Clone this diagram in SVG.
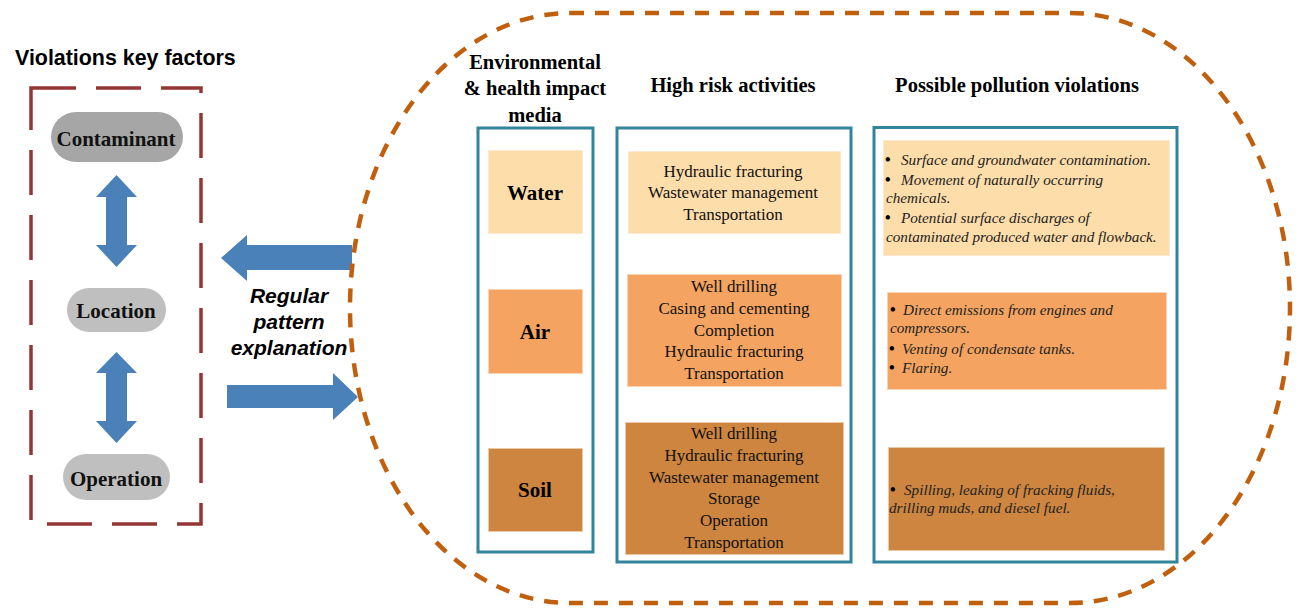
<svg xmlns="http://www.w3.org/2000/svg" width="1299" height="609" viewBox="0 0 1299 609">
<style>
.title{font-family:'Liberation Sans',Arial,sans-serif;font-weight:bold;font-size:21.4px;fill:#000}
.expl{font-family:'Liberation Sans',Arial,sans-serif;font-weight:bold;font-style:italic;font-size:21px;fill:#000;text-anchor:middle}
.serif{font-family:'Liberation Serif','DejaVu Serif',serif}
.pilltxt{font-weight:bold;font-size:21px;fill:#111;text-anchor:middle}
.hdr{font-weight:bold;font-size:20.5px;fill:#000;text-anchor:middle}
.media{font-weight:bold;font-size:21px;fill:#000;text-anchor:middle}
.act{font-size:17px;fill:#111;text-anchor:middle}
.vio{font-style:italic;font-size:15.2px;fill:#222}
.b{font-weight:bold;font-style:normal;font-size:16px;fill:#000}
.col{fill:#fff;stroke:#31849B;stroke-width:3}
.water{fill:#FDDDAA;stroke:#FDE9D2;stroke-width:1}
.air{fill:#F4A460;stroke:#FAD3B3;stroke-width:1}
.soil{fill:#CD853F;stroke:#EBC8A6;stroke-width:1}
.blue{fill:#4A81B8}
</style>

<text class="title" x="15" y="65">Violations key factors</text>
<rect x="31" y="88" width="170" height="436" fill="none" stroke="#943634" stroke-width="3.5" stroke-dasharray="45 20"/>

<g id="contaminant">
<rect x="51" y="112" width="132" height="50" rx="25" fill="#A6A6A6"/>
<text class="serif pilltxt" x="116" y="146">Contaminant</text>
</g>
<g id="location">
<rect x="67" y="288" width="99" height="44" rx="22" fill="#BFBFBF"/>
<text class="serif pilltxt" x="116" y="318">Location</text>
</g>
<g id="operation">
<rect x="63" y="454" width="107" height="46" rx="23" fill="#BFBFBF"/>
<text class="serif pilltxt" x="116" y="486">Operation</text>
</g>

<g id="connectors">
<path class="blue" d="M116.5,175 L137,197 L127,197 L127,245 L137,245 L116.5,267 L96,245 L106,245 L106,197 L96,197 Z"/>
<path class="blue" d="M116.5,352 L137,373 L127,373 L127,421 L137,421 L116.5,443 L96,421 L106,421 L106,373 L96,373 Z"/>
<path class="blue" d="M221,258 L247,235 L247,245 L352,245 L352,270 L247,270 L247,281 Z"/>
<path class="blue" d="M227,385 L333,385 L333,373 L358,397 L333,420 L333,408 L227,408 Z"/>
</g>

<g id="explanation">
<text class="expl" x="289" y="303">Regular</text>
<text class="expl" x="289" y="329">pattern</text>
<text class="expl" x="289" y="355">explanation</text>
</g>

<rect x="350" y="13" width="940" height="590" rx="220" ry="295" fill="none" stroke="#C0600F" stroke-width="4.5" stroke-dasharray="14 11"/>

<g id="headers" class="serif">
<text class="hdr" x="535" y="69">Environmental</text>
<text class="hdr" x="535" y="95">&amp; health impact</text>
<text class="hdr" x="535" y="122">media</text>
<text class="hdr" x="733" y="92">High risk activities</text>
<text class="hdr" x="1017" y="92">Possible pollution violations</text>
</g>

<g id="col-media" class="serif">
<rect class="col" x="478" y="128" width="115" height="424"/>
<rect class="water" x="488.5" y="150.5" width="94" height="83"/>
<text class="media" x="535" y="200">Water</text>
<rect class="air" x="488.5" y="289.5" width="94" height="84"/>
<text class="media" x="535" y="339">Air</text>
<rect class="soil" x="488.5" y="448.5" width="94" height="83"/>
<text class="media" x="535" y="497">Soil</text>
</g>

<g id="col-activities" class="serif">
<rect class="col" x="617" y="128" width="234" height="434"/>
<rect class="water" x="628.5" y="151.5" width="212" height="82"/>
<text class="act" x="733" y="177">Hydraulic fracturing</text>
<text class="act" x="733" y="198">Wastewater management</text>
<text class="act" x="733" y="220">Transportation</text>
<rect class="air" x="627.5" y="274.5" width="214" height="112"/>
<text class="act" x="734" y="292">Well drilling</text>
<text class="act" x="734" y="314">Casing and cementing</text>
<text class="act" x="734" y="336">Completion</text>
<text class="act" x="734" y="357">Hydraulic fracturing</text>
<text class="act" x="734" y="379">Transportation</text>
<rect class="soil" x="625.5" y="422.5" width="218" height="132"/>
<text class="act" x="734" y="439">Well drilling</text>
<text class="act" x="734" y="461">Hydraulic fracturing</text>
<text class="act" x="734" y="483">Wastewater management</text>
<text class="act" x="734" y="504">Storage</text>
<text class="act" x="734" y="526">Operation</text>
<text class="act" x="734" y="548">Transportation</text>
</g>

<g id="col-violations" class="serif">
<rect class="col" x="874" y="127.5" width="303" height="434.5"/>
<rect class="water" x="883.5" y="140.5" width="286" height="115"/>
<text class="vio" y="165"><tspan class="b" x="885">•</tspan><tspan x="901">Surface and groundwater contamination.</tspan></text>
<text class="vio" y="185"><tspan class="b" x="885">•</tspan><tspan x="901">Movement of naturally occurring</tspan></text>
<text class="vio" x="886" y="203">chemicals.</text>
<text class="vio" y="223"><tspan class="b" x="885">•</tspan><tspan x="901">Potential surface discharges of</tspan></text>
<text class="vio" x="886" y="242">contaminated produced water and flowback.</text>
<rect class="air" x="887.5" y="292.5" width="279" height="97"/>
<text class="vio" y="315"><tspan class="b" x="890">•</tspan><tspan x="903">Direct emissions from engines and</tspan></text>
<text class="vio" x="890" y="333">compressors.</text>
<text class="vio" y="354"><tspan class="b" x="889">•</tspan><tspan x="902">Venting of condensate tanks.</tspan></text>
<text class="vio" y="373"><tspan class="b" x="889">•</tspan><tspan x="902">Flaring.</tspan></text>
<rect class="soil" x="888.5" y="447.5" width="276" height="103"/>
<text class="vio" y="495"><tspan class="b" x="890">•</tspan><tspan x="904">Spilling, leaking of fracking fluids,</tspan></text>
<text class="vio" x="889" y="513">drilling muds, and diesel fuel.</text>
</g>
</svg>
